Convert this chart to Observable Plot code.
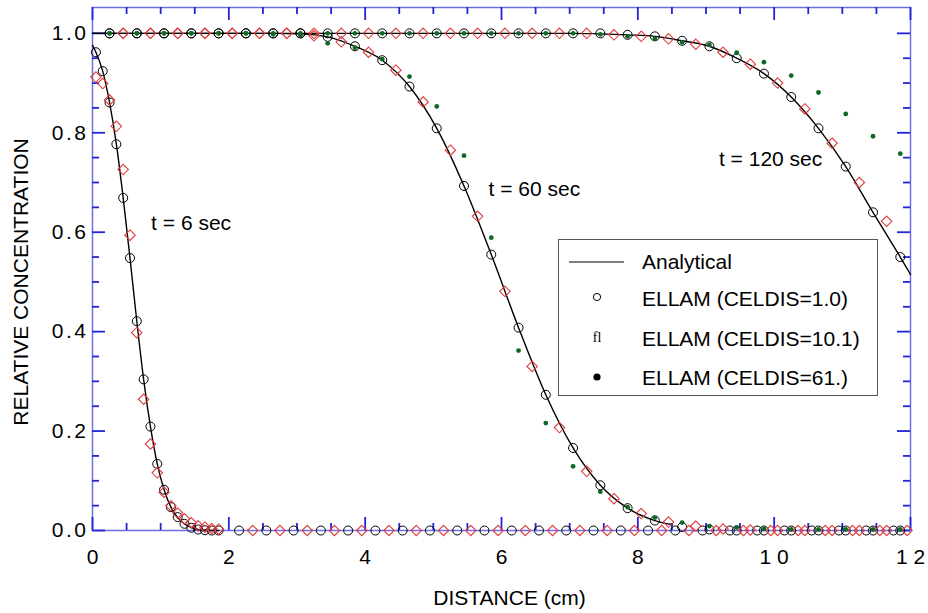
<!DOCTYPE html>
<html>
<head>
<meta charset="utf-8">
<script src="https://cdn.jsdelivr.net/npm/d3@7"></script>
<script src="https://cdn.jsdelivr.net/npm/@observablehq/plot@0.6"></script>
<style>
  html, body { margin: 0; padding: 0; background: #fff; }
  #wrap { position: relative; width: 928px; height: 613px; font-family: "Liberation Sans", Arial, sans-serif; }
  g[aria-label="y-axis tick label"] text { letter-spacing: 2.5px; }
  #legend { position: absolute; left: 558px; top: 239px; width: 320px; height: 157px;
            border: 1.5px solid #555; background: #fff; box-sizing: border-box; }
  #legend svg { position: absolute; left: 0; top: 0; }
</style>
</head>
<body>
<div id="wrap"></div>
<script>
// ---------------- data ----------------
// t = 6 sec, fine sampling (every 0.1 cm)
const t6X = [0.05,0.15,0.25,0.35,0.45,0.55,0.65,0.75,0.85,0.95,1.05,1.15,1.25,1.35,1.45,1.55,1.65,1.75,1.85];
const t6Circle = [0.962,0.924,0.861,0.777,0.669,0.548,0.421,0.304,0.209,0.134,0.082,0.047,0.027,0.0135,0.0055,0.002,0.0005,0.0,0.0];
const t6Diamond = [0.912,0.899,0.866,0.813,0.726,0.594,0.398,0.264,0.174,0.116,0.077,0.050,0.035,0.0235,0.0155,0.0095,0.0067,0.004,0.0027];
// t = 6 sec, tail (coarse sampling)
const t6TailCircleX = [2.15,2.55,2.95,3.35,3.75,4.15,4.55,4.95,5.35,5.75,6.15,6.55,6.95,7.35,7.75,8.15,8.55,8.95,9.35,9.75,10.15,10.55,10.95,11.35,11.75];
const t6TailCircleY = [0,0,0,0,0,0,0,0,0,0,0,0,0,0,0,0,0,0,0,0,0,0,0,0,0];
const t6TailDiamondX = [2.35,2.75,3.15,3.55,3.95,4.35,4.75,5.15,5.55,5.95,6.35,6.75,7.15,7.55,7.95,8.35,8.75,9.15,9.55,9.95,10.35,10.75,11.15,11.55,11.95];
const t6TailDiamondY = [0,0,0,0,0,0,0,0,0,0,0,0,0,0,0,0,0,0,0,0,0,0,0,0,0];

// t = 60 and 120 sec, coarse sampling
const gridC = [0.25,0.65,1.05,1.45,1.85,2.25,2.65,3.05,3.45,3.85,4.25,4.65,5.05,5.45,5.85,6.25,6.65,7.05,7.45,7.85,8.25,8.65,9.05,9.45,9.85,10.25,10.65,11.05,11.45,11.85];
const t60Circle = [1,1,1,1,1,1,1,1,0.993,0.974,0.946,0.893,0.809,0.693,0.555,0.408,0.273,0.166,0.091,0.045,0.020,0.007,0.002,0,0,0,0,0,0,0];
const t60Dot = [1,1,1,1,1,1,0.998,0.996,0.980,0.971,0.948,0.913,0.853,0.754,0.589,0.362,0.216,0.129,0.078,0.047,0.026,0.016,0.009,0.006,0.003,0.002,0.002,0.002,0.002,0.002];
const t120Circle = [1,1,1,1,1,1,1,1,1,1,1,1,1,1,1,1,1,1,1,0.997,0.994,0.985,0.974,0.950,0.919,0.872,0.809,0.732,0.640,0.550];
const t120Dot = [1,1,1,1,1,1,1,1,1,1,1,1,1,1,1,1,1,1,0.998,0.994,0.989,0.982,0.977,0.961,0.942,0.915,0.881,0.838,0.793,0.758];
const gridD = [0.45,0.85,1.25,1.65,2.05,2.45,2.85,3.25,3.65,4.05,4.45,4.85,5.25,5.65,6.05,6.45,6.85,7.25,7.65,8.05,8.45,8.85,9.25,9.65,10.05,10.45,10.85,11.25,11.65];
const t60Diamond = [1,1,1,1,1,1,1,0.995,0.983,0.962,0.926,0.862,0.765,0.632,0.481,0.330,0.207,0.119,0.064,0.034,0.017,0.009,0.003,0.001,0,0,0,0,0];
const t120Diamond = [1,1,1,1,1,1,1,1,1,1,1,1,1,1,1,1,1,1,0.997,0.994,0.989,0.978,0.962,0.938,0.900,0.848,0.779,0.700,0.622];

// analytical solutions
const t6LineX = [0,0.05,0.15,0.25,0.35,0.45,0.55,0.65,0.75,0.85,0.95,1.05,1.15,1.25,1.35,1.45,1.55,1.65,1.75,1.85];
const t6LineY = [0.976,0.962,0.924,0.861,0.777,0.669,0.548,0.421,0.304,0.209,0.134,0.082,0.047,0.026,0.013,0.006,0.002,0.001,0,0];
const t60LineX = [0,1,2,2.65,3.05,3.45,3.85,4.25,4.65,5.05,5.45,5.85,6.25,6.65,7.05,7.45,7.85,8.25,8.5];
const t60LineY = [1,1,1,1,0.999,0.993,0.974,0.946,0.893,0.809,0.693,0.555,0.408,0.273,0.166,0.091,0.045,0.020,0.012];
const t120LineX = [0,2,4,6,7.05,7.45,7.85,8.25,8.65,9.05,9.45,9.85,10.25,10.65,11.05,11.45,11.85,12];
const t120LineY = [1,1,1,1,1,0.999,0.997,0.994,0.985,0.974,0.950,0.919,0.872,0.809,0.732,0.640,0.550,0.515];

// annotations
const annotLabels = ["t = 6 sec", "t = 60 sec", "t = 120 sec"];
const annotX = [0.86, 5.81, 9.19];
const annotY = [0.618, 0.687, 0.746];

// ticks
const xMajorTicks = [0,2,4,6,8,10,12];
const xMinorTicks = [0.5,1,1.5,2.5,3,3.5,4.5,5,5.5,6.5,7,7.5,8.5,9,9.5,10.5,11,11.5];
const yMajorTicks = [0,0.2,0.4,0.6,0.8,1.0];
const yMinorTicks = [0.05,0.1,0.15,0.25,0.3,0.35,0.45,0.5,0.55,0.65,0.7,0.75,0.85,0.9,0.95];

const legendItems = ["Analytical","ELLAM (CELDIS=1.0)","ELLAM (CELDIS=10.1)","ELLAM (CELDIS=61.)"];

// ---------------- chart ----------------
const W = 928, H = 613, ML = 92, MR = 18, MT = 7, MB = 83;
const innerW = W - ML - MR, innerH = H - MT - MB;
const pts = (xs, ys) => xs.map((x, i) => ({x, y: ys[i]}));
const tickBlue = "#2323d8";
const frameBlue = "#6d6dea";
const red = "#e03c3c";
const green = "#0c6a24";
const fmtX = d => d >= 10 ? String(d).split("").join(" ") : String(d);

const circleStyle = {x: "x", y: "y", r: 4.5, stroke: "black", fill: "none", strokeWidth: 1};
const diamondStyle = {x: "x", y: "y", r: 4.7, symbol: "diamond2", stroke: red, fill: "none", strokeWidth: 1.1};
const dotStyle = {x: "x", y: "y", r: 2.4, fill: green, stroke: "none"};
const lineStyle = {x: "x", y: "y", curve: "monotone-x", stroke: "black", strokeWidth: 1.4};

// inward ticks on all four sides (full-frame rules trimmed by insets to the tick length)
const tickStyle = {stroke: tickBlue, strokeWidth: 1.8};
const inTicksX = (ticks, size) => [
  Plot.ruleX(ticks, {insetTop: innerH - size, ...tickStyle}),
  Plot.ruleX(ticks, {insetBottom: innerH - size, ...tickStyle})
];
const inTicksY = (ticks, size) => [
  Plot.ruleY(ticks, {insetRight: innerW - size, ...tickStyle}),
  Plot.ruleY(ticks, {insetLeft: innerW - size, ...tickStyle})
];

const chart = Plot.plot({
  width: W, height: H,
  marginLeft: ML, marginRight: MR, marginTop: MT, marginBottom: MB,
  style: {fontFamily: "'Liberation Sans', Arial, sans-serif", fontSize: "21px", background: "#fff", color: "black"},
  x: {domain: [0, 12]},
  y: {domain: [0, 1.052]},
  marks: [
    Plot.frame({stroke: frameBlue, strokeWidth: 1.5}),
    ...inTicksX(xMajorTicks, 13),
    ...inTicksX(xMinorTicks, 7),
    ...inTicksY(yMajorTicks, 13),
    ...inTicksY(yMinorTicks, 7),
    // tick labels
    Plot.axisX({anchor: "bottom", ticks: xMajorTicks, tickSize: 0, tickPadding: 19, tickFormat: fmtX, label: null, fontSize: 21}),
    Plot.axisY({anchor: "left", ticks: yMajorTicks, tickSize: 0, tickPadding: 4, tickFormat: d3.format(".1f"), label: null, fontSize: 21}),
    // analytical
    Plot.line(pts(t6LineX, t6LineY), lineStyle),
    Plot.line(pts(t60LineX, t60LineY), lineStyle),
    Plot.line(pts(t120LineX, t120LineY), lineStyle),
    // CELDIS = 1.0
    Plot.dot(pts(t6X, t6Circle), circleStyle),
    Plot.dot(pts(t6TailCircleX, t6TailCircleY), circleStyle),
    Plot.dot(pts(gridC, t60Circle), circleStyle),
    Plot.dot(pts(gridC, t120Circle), circleStyle),
    // CELDIS = 10.1
    Plot.dot(pts(t6X, t6Diamond), diamondStyle),
    Plot.dot(pts(t6TailDiamondX, t6TailDiamondY), diamondStyle),
    Plot.dot(pts(gridD, t60Diamond), diamondStyle),
    Plot.dot(pts(gridD, t120Diamond), diamondStyle),
    // CELDIS = 61.
    Plot.dot(pts(gridC, t60Dot), dotStyle),
    Plot.dot(pts(gridC, t120Dot), dotStyle),
    // annotations
    Plot.text(annotLabels, {x: annotX, y: annotY, textAnchor: "start", fontSize: 21, fill: "black"}),
    // axis titles
    Plot.text(["DISTANCE (cm)"], {frameAnchor: "bottom", textAnchor: "middle", lineAnchor: "middle", dx: 8, dy: 68, fontSize: 21, fill: "black"}),
    Plot.text(["RELATIVE CONCENTRATION"], {frameAnchor: "left", textAnchor: "middle", lineAnchor: "middle", dx: -71, dy: 13, rotate: -90, fontSize: 21, fill: "black"})
  ]
});
document.getElementById("wrap").appendChild(chart);

// ---------------- legend (overlay inside the plot area) ----------------
const legend = document.createElement("div");
legend.id = "legend";
legend.innerHTML = `
<svg width="320" height="157" xmlns="http://www.w3.org/2000/svg" font-family="Liberation Sans, Arial, sans-serif">
  <line x1="10" x2="65" y1="22" y2="22" stroke="black" stroke-width="1.2"/>
  <circle cx="38" cy="57" r="3.6" fill="none" stroke="black" stroke-width="1"/>
  <text x="38" y="102" text-anchor="middle" font-family="Liberation Serif, DejaVu Serif, serif" font-size="14" fill="black">fl</text>
  <circle cx="38" cy="137" r="3.6" fill="black"/>
  <text x="83" y="22" dy="0.35em" font-size="21">${legendItems[0]}</text>
  <text x="83" y="59" dy="0.35em" font-size="21">${legendItems[1]}</text>
  <text x="83" y="99" dy="0.35em" font-size="21">${legendItems[2]}</text>
  <text x="83" y="138" dy="0.35em" font-size="21">${legendItems[3]}</text>
</svg>`;
document.getElementById("wrap").appendChild(legend);
</script>
</body>
</html>
